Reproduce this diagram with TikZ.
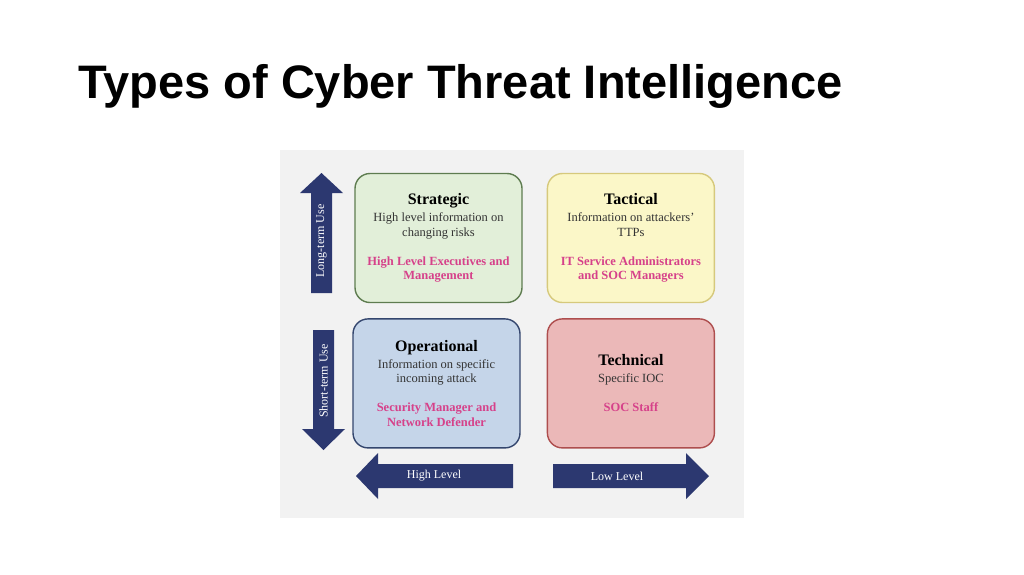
\documentclass[tikz,border=0pt]{standalone}
\usepackage{fontspec}
\setmainfont{Liberation Serif}
\newfontfamily\headfont{Liberation Sans}
\usetikzlibrary{positioning}
\definecolor{panelgray}{HTML}{F2F2F2}
\definecolor{stratfill}{HTML}{E2EFD9}
\definecolor{stratline}{HTML}{5E7C50}
\definecolor{tactfill}{HTML}{FBF7C8}
\definecolor{tactline}{HTML}{D6C97C}
\definecolor{operfill}{HTML}{C5D5E9}
\definecolor{operline}{HTML}{34466E}
\definecolor{techfill}{HTML}{EBB8B8}
\definecolor{techline}{HTML}{AE4E4E}
\definecolor{navy}{HTML}{2C3870}
\definecolor{rolepink}{HTML}{D6418A}
\definecolor{bodygray}{HTML}{333333}

\begin{document}
\begin{tikzpicture}[x=1pt, y=-1pt,
    quad/.style={rectangle, rounded corners=15pt, line width=1.4pt, minimum width=167pt, minimum height=129pt, align=center, text=bodygray, font=\fontsize{12.5}{14.5}\selectfont},
    arrowtext/.style={text=white, inner sep=0pt, font=\fontsize{12}{13}\selectfont}]
    \useasboundingbox (0,0) rectangle (1024,574);

    \node[anchor=base west, inner sep=0pt, font=\headfont\bfseries\fontsize{47}{50}\selectfont] (title) at (78,98) {Types of Cyber Threat Intelligence};

    \fill[panelgray] (280,150) rectangle (744,518);

    % Quadrants
    \node[quad, fill=stratfill, draw=stratline] (strat) at (438.5,238) {{\fontsize{16}{15}\selectfont\bfseries\color{black}Strategic}\\[2.5pt] High level information on\\ changing risks\\[14.5pt] {\bfseries\color{rolepink}High Level Executives and}\\ {\bfseries\color{rolepink}Management}};
    \node[quad, fill=tactfill, draw=tactline, right=24pt of strat] (tact) {{\fontsize{16}{15}\selectfont\bfseries\color{black}Tactical}\\[2.5pt] Information on attackers’\\ TTPs\\[14.5pt] {\bfseries\color{rolepink}IT Service Administrators}\\ {\bfseries\color{rolepink}and SOC Managers}};
    \node[quad, fill=operfill, draw=operline, below=15pt of strat, xshift=-2pt] (oper) {{\fontsize{16}{15}\selectfont\bfseries\color{black}Operational}\\[2.5pt] Information on specific\\ incoming attack\\[14.5pt] {\bfseries\color{rolepink}Security Manager and}\\ {\bfseries\color{rolepink}Network Defender}};
    \node[quad, fill=techfill, draw=techline, below=15pt of tact] (tech) {{\fontsize{16}{15}\selectfont\bfseries\color{black}Technical}\\[2.5pt] Specific IOC\\[14.5pt] {\bfseries\color{rolepink}SOC Staff}};

    % Block arrows
    \fill[navy] (311,293) -- (311,193) -- (300,193) -- (321.5,173) -- (343,193) -- (332,193) -- (332,293) -- cycle;
    \fill[navy] (313,330) -- (334,330) -- (334,429) -- (345,429) -- (323.5,450) -- (302,429) -- (313,429) -- cycle;
    \fill[navy] (513,464) -- (378,464) -- (378,453) -- (356,476) -- (378,499) -- (378,488) -- (513,488) -- cycle;
    \fill[navy] (553,464) -- (686,464) -- (686,453) -- (709,476) -- (686,499) -- (686,488) -- (553,488) -- cycle;

    \node[arrowtext, rotate=90] (longuse) at (321.5,241) {Long-term Use};
    \node[arrowtext, rotate=90] (shortuse) at (323.5,381) {Short-term Use};
    \node[arrowtext] (highlvl) at (434,476) {High Level};
    \node[arrowtext] (lowlvl) at (617,476) {Low Level};
\end{tikzpicture}
\end{document}
